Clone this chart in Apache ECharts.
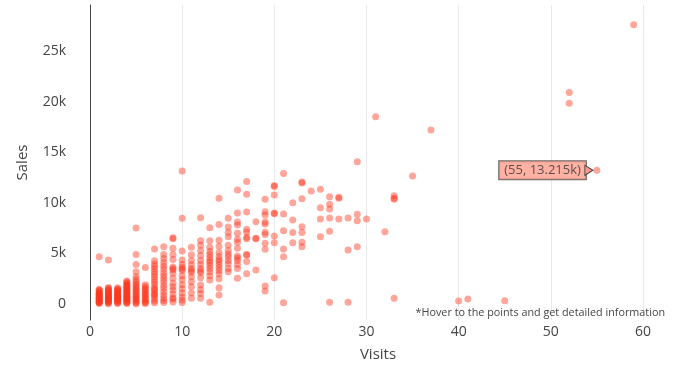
<!DOCTYPE html>
<html><head><meta charset="utf-8">
<script src="https://cdn.jsdelivr.net/npm/echarts@6/dist/echarts.min.js"></script>
<style>html,body{margin:0;padding:0;background:#fff}#c{width:676px;height:372px}</style>
</head><body><div id="c"></div>
<script>
const xTicks = [0, 10, 20, 30, 40, 50, 60];
const yTicksK = [0, 5, 10, 15, 20, 25];
const visitCounts = [1, 2, 3, 4, 5, 6, 7, 8, 9, 10, 11, 12, 13, 14, 15, 16, 17, 18, 19, 20,
  21, 22, 23, 24, 25, 26, 27, 28, 29, 30, 31, 32, 33, 35, 37, 40, 41, 45, 52, 59];
const salesK = [
  [4.67, 0.04, 0.11, 0.17, 0.22, 0.26, 0.31, 0.38, 0.47, 0.52, 0.58, 0.61, 0.69, 0.74, 0.83, 0.9, 0.95, 0.97, 1.06, 1.12, 1.21, 1.3, 1.38, 1.47],
  [4.35, 0.03, 0.1, 0.19, 0.24, 0.33, 0.36, 0.4, 0.46, 0.55, 0.63, 0.68, 0.7, 0.79, 0.86, 0.93, 1.01, 1.1, 1.18, 1.27, 1.36, 1.44, 1.55, 1.62],
  [0.05, 0.13, 0.2, 0.29, 0.37, 0.43, 0.45, 0.51, 0.6, 0.67, 0.76, 0.8, 0.84, 0.91, 1.0, 1.08, 1.16, 1.25, 1.33, 1.42, 1.51, 1.6],
  [0.04, 0.12, 0.21, 0.27, 0.36, 0.44, 0.5, 0.59, 0.68, 0.73, 0.82, 0.9, 0.99, 1.07, 1.14, 1.23, 1.31, 1.4, 1.49, 1.58, 1.67, 1.76, 1.86, 1.95, 2.06, 2.17, 2.28],
  [7.5, 4.9, 3.9, 3.2, 2.7, 2.45, 2.2, 2.0, 1.85, 1.66, 1.5, 1.35, 1.2, 1.04, 0.9, 0.77, 0.62, 0.5, 0.36, 0.24, 0.1, 0.03],
  [3.6, 1.9, 1.72, 1.55, 1.4, 1.26, 1.1, 0.95, 0.8, 0.66, 0.5, 0.38, 0.25, 0.12, 0.05],
  [5.43, 4.28, 3.95, 3.7, 3.45, 3.2, 2.95, 2.7, 2.4, 2.15, 1.9, 1.6, 1.45, 1.3, 1.05, 0.95, 0.8, 0.55, 0.3, 0.12],
  [5.66, 4.9, 4.5, 4.1, 3.75, 3.45, 3.1, 2.8, 2.5, 2.2, 1.85, 1.55, 1.2, 0.9, 0.6, 0.35, 0.15],
  [6.55, 6.45, 5.5, 4.9, 4.4, 3.65, 3.5, 3.35, 3.05, 2.55, 2.05, 1.7, 1.38, 1.0, 0.6, 0.5, 0.2],
  [13.14, 8.47, 5.24, 4.35, 3.9, 3.6, 3.45, 3.3, 2.8, 2.4, 1.9, 1.5, 1.1, 0.7, 0.4, 0.15],
  [5.6, 4.87, 4.3, 3.87, 3.5, 3.3, 3.15, 2.7, 2.2, 1.7, 1.1, 0.56],
  [8.53, 6.26, 5.8, 5.3, 4.8, 4.3, 3.9, 3.5, 3.26, 3.1, 2.6, 1.88, 1.4, 1.05, 0.56],
  [7.54, 6.26, 5.6, 5.2, 4.9, 4.6, 4.3, 4.1, 3.8, 3.5, 3.2, 2.8, 2.37, 0.17],
  [10.44, 7.87, 6.3, 5.7, 5.1, 4.7, 4.4, 4.2, 3.9, 3.6, 3.3, 3.0, 2.5, 1.6, 0.89],
  [8.47, 7.6, 7.1, 6.65, 5.8, 5.3, 4.95, 4.7, 4.3, 4.0, 3.5, 3.2],
  [11.26, 9.0, 8.1, 7.8, 7.0, 6.4, 6.1, 5.5, 4.75, 4.55, 4.3, 3.9, 3.5, 2.54],
  [12.1, 10.84, 9.1, 7.4, 7.1, 6.6, 6.45, 4.9, 4.85, 4.2, 3.0],
  [8.13, 6.5, 6.45, 3.36],
  [10.35, 9.12, 8.8, 8.1, 7.9, 7.1, 6.86, 6.0, 5.4, 1.78, 1.28],
  [11.7, 11.62, 10.77, 9.0, 8.92, 6.72, 6.06, 2.6],
  [12.9, 8.9, 7.25, 5.43, 4.67, 0.13],
  [10.0, 8.3, 7.06, 6.06],
  [12.05, 11.95, 10.4, 7.64, 7.06, 6.1, 5.66],
  [11.17],
  [11.33, 9.52, 8.4, 6.65],
  [10.6, 9.85, 9.4, 8.5, 7.2, 0.17],
  [10.55, 10.45, 8.4],
  [8.5, 5.34, 0.17],
  [14.06, 8.86, 8.24, 5.66],
  [8.4],
  [18.5],
  [7.15],
  [10.7, 10.45, 10.35, 0.56],
  [12.65],
  [17.2],
  [0.3],
  [0.5],
  [0.33],
  [20.9, 19.83],
  [27.6]
];
const hoverPoint = [55, 13.215];
const noteText = '*Hover to the points and get detailed information';

const points = [];
visitCounts.forEach((v, i) => salesK[i].forEach(s => points.push([v, s])));
points.push(hoverPoint);

const FONT = '"Open Sans", sans-serif';
const markerStyle = { color: 'rgb(255,55,30)', opacity: 0.45 };
const chart = echarts.init(document.getElementById('c'));
chart.setOption({
  animation: false,
  grid: { left: 90, right: 10, top: 5, bottom: 52 },
  xAxis: {
    type: 'value', min: 0, max: 62.5, interval: 10,
    name: 'Visits', nameLocation: 'middle', nameGap: 27,
    nameTextStyle: { fontSize: 15, color: '#444', fontFamily: FONT },
    axisLine: { show: false }, axisTick: { show: false },
    axisLabel: { color: '#444', fontSize: 14, fontFamily: FONT, margin: 5,
      formatter: v => xTicks.includes(v) ? String(v) : '' },
    splitLine: { show: true, showMaxLine: false, lineStyle: { color: '#eaeaea', width: 1 } }
  },
  yAxis: {
    type: 'value', min: -1.58, max: 29.55,
    name: 'Sales', nameLocation: 'middle', nameGap: 60,
    nameTextStyle: { fontSize: 15, color: '#444', fontFamily: FONT },
    axisLine: { show: true, lineStyle: { color: '#444', width: 1 } },
    axisTick: { show: false },
    axisLabel: { color: '#444', fontSize: 14, fontFamily: FONT, margin: 24,
      formatter: v => yTicksK.includes(v) ? (v === 0 ? '0' : v + 'k') : '' },
    splitLine: { show: false }
  },
  graphic: [{
    type: 'text', right: 11, top: 307, z: 10,
    style: { text: noteText, font: '10.8px "Open Sans", sans-serif', fill: '#444' }
  }],
  series: [
    { type: 'scatter', data: points, symbolSize: 7, itemStyle: markerStyle, silent: true },
    { type: 'scatter', data: [hoverPoint], symbolSize: 0, silent: true,
      label: { show: true, position: 'left', distance: 11,
        formatter: p => `(${p.value[0]}, ${p.value[1]}k)`,
        backgroundColor: '#ff9d8c', borderColor: '#444', borderWidth: 1,
        padding: [3, 5, 2, 5], color: '#333', fontSize: 13, fontFamily: FONT },
      markPoint: { silent: true, symbol: 'triangle', symbolSize: [10, 8], symbolRotate: -90,
        symbolOffset: [-8, 0], data: [{ coord: hoverPoint }],
        itemStyle: { color: '#ff9d8c', borderColor: '#444', borderWidth: 1 },
        label: { show: false } } }
  ]
});
</script></body></html>
